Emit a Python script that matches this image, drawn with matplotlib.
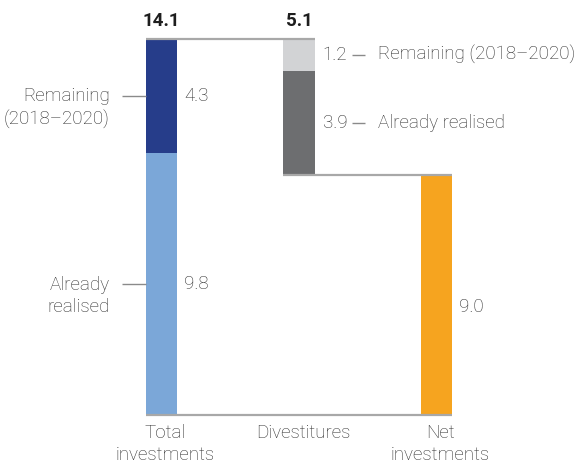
import matplotlib
matplotlib.use("Agg")
import matplotlib.pyplot as plt
from matplotlib.transforms import ScaledTranslation

plt.rcParams['font.family'] = ['Roboto', 'DejaVu Sans']

# ---- data ----
categories = ["Total\ninvestments", "Divestitures", "Net\ninvestments"]
total_realised = 9.8
total_remaining = 4.3
div_remaining = 1.2
div_realised = 3.9
net_value = 9.0
totals = [14.1, 5.1]

c_dark_blue = "#263d8a"
c_light_blue = "#7ba7d8"
c_light_gray = "#d2d3d5"
c_dark_gray = "#6d6e70"
c_orange = "#f6a41f"
c_text = "#2e2e2e"
c_line = "#a8a8a8"
c_lead = "#8a8a8a"

W, H = 579, 463
fig = plt.figure(figsize=(W / 100, H / 100), dpi=100)
ax_px_w = 452 - 146
ax = fig.add_axes([146 / W, 1 - 415 / H, ax_px_w / W, (415 - 38.5) / H])
bw = 0.2255
ax.set_xlim(-bw / 2, 2 + bw / 2)
total = total_realised + total_remaining
ax.set_ylim(0, total)
ax.axis("off")
px = (2 + bw) / ax_px_w  # data units per pixel horizontally

x = [0, 1, 2]
# Total investments
ax.bar(x[0], total_realised, width=bw, color=c_light_blue)
ax.bar(x[0], total_remaining, bottom=total_realised, width=bw, color=c_dark_blue)
# Divestitures (floating)
div_total = div_remaining + div_realised
ax.bar(x[1], div_remaining, bottom=total - div_remaining, width=bw, color=c_light_gray)
ax.bar(x[1], div_realised, bottom=total - div_total, width=bw, color=c_dark_gray)
# Net
ax.bar(x[2], net_value, width=bw, color=c_orange)

# connector lines
kw = dict(color=c_line, lw=1.6, clip_on=False, solid_capstyle="butt")
ax.plot([x[0] - bw / 2, x[1] + bw / 2], [total, total], **kw)
ax.plot([x[1] - bw / 2, x[2] + bw / 2], [total - div_total, total - div_total], **kw)
ax.plot([x[0] - bw / 2, x[2] + bw / 2], [0, 0], **kw)


def off(dx, dy):
    return ax.transData + ScaledTranslation(dx / 100, dy / 100, fig.dpi_scale_trans)


def leader(xd, yd, dx0, dx1):
    ax.plot([xd + dx0 * px, xd + dx1 * px], [yd, yd], color=c_lead, lw=1.0,
            clip_on=False, solid_capstyle="butt")


fs = 13.5
fw = "light"
# totals on top
for xi, t in zip(x[:2], totals):
    ax.text(xi, total, f"{t:.1f}", transform=off(0, 12.5), ha="center", va="baseline",
            fontsize=fs, fontweight="bold", color="#1e1e1e", clip_on=False)

# value labels
ax.text(x[0] + bw / 2, total_realised + total_remaining / 2, f"{total_remaining:.1f}",
        transform=off(7, 0), ha="left", va="center", fontsize=fs, color=c_text, fontweight=fw)
ax.text(x[0] + bw / 2, total_realised / 2, f"{total_realised:.1f}",
        transform=off(7, 0), ha="left", va="center", fontsize=fs, color=c_text, fontweight=fw)
ax.text(x[2] + bw / 2, net_value / 2, f"{net_value:.1f}",
        transform=off(7, -12), ha="left", va="center", fontsize=fs, color=c_text, fontweight=fw)

# left annotations
for yv, lab in [(total_realised + total_remaining / 2, "Remaining\n(2018–2020)"),
                (total_realised / 2, "Already\nrealised")]:
    leader(x[0] - bw / 2, yv, -24, 0)
    ax.text(x[0] - bw / 2, yv, lab, transform=off(-36, -12), ha="right", ma="right",
            va="center", fontsize=fs, color=c_text, linespacing=1.3, fontweight=fw)

# right annotations for divestitures
for yv, val, lab in [(total - div_remaining / 2, div_remaining, "Remaining (2018–2020)"),
                     (total - div_remaining - div_realised / 2, div_realised, "Already realised")]:
    ax.text(x[1] + bw / 2, yv, f"{val:.1f}", transform=off(8, 0), ha="left", va="center",
            fontsize=fs, color=c_text, fontweight=fw)
    leader(x[1] + bw / 2, yv, 37, 50)
    ax.text(x[1] + bw / 2, yv, lab, transform=off(63, 0), ha="left", va="center",
            fontsize=fs, color=c_text, fontweight=fw)

# category labels
for xi, cat in zip(x, categories):
    ax.text(xi, 0, cat, transform=off(4, -9), ha="center", va="top", fontsize=fs,
            color=c_text, linespacing=1.3, fontweight=fw)

fig.savefig("out.png", dpi=100)
